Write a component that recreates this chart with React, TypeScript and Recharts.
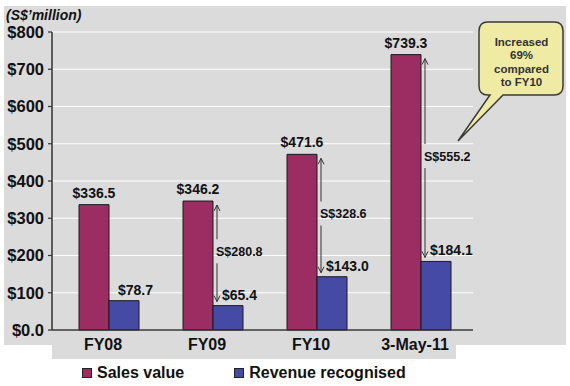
import React from "react";
import { BarChart, Bar, XAxis, YAxis, CartesianGrid, LabelList, Legend } from "recharts";

const categories = ["FY08", "FY09", "FY10", "3-May-11"];
const salesValue = [336.5, 346.2, 471.6, 739.3];
const revenueRecognised = [78.7, 65.4, 143.0, 184.1];
const showGap = [false, true, true, true];
const yTicks = [0, 100, 200, 300, 400, 500, 600, 700, 800];
const seriesNames = ["Sales value", "Revenue recognised"];
const yUnitLabel = "(S$\u2019million)";
const calloutLines = ["Increased", "69%", "compared", "to FY10"];

const data = categories.map((c, i) => ({
  category: c,
  sales: salesValue[i],
  revenue: revenueRecognised[i],
}));

const FONT = "'Liberation Sans', Arial, sans-serif";
const SALES_COLOR = "#9b2d63";
const REV_COLOR = "#454aa5";
const BG = "#dcdbdc";
const INK = "#111111";

const money = (v: number) => `$${v.toFixed(1)}`;

const RevenueLabel = (props: any) => {
  const vb = props.viewBox && props.viewBox.height != null ? props.viewBox : props;
  const x = Number(vb.x);
  const y = Number(vb.y);
  const height = Number(vb.height);
  const i = props.index as number;
  const rev = revenueRecognised[i];
  const s = salesValue[i];
  const base = y + height;
  const pxPer = height / rev;
  const salesTop = base - s * pxPer;
  const revTop = y;
  const labelEl = (
    <text x={x + 9} y={revTop - 6} fontSize={14} fontWeight="bold" fill={INK} fontFamily={FONT} textAnchor="start">
      {money(rev)}
    </text>
  );
  if (!showGap[i]) return <g>{labelEl}</g>;
  const ax = x + 4;
  const top = salesTop + 4;
  const bot = revTop - 4;
  const mid = (top + bot) / 2 - 2;
  const st = { stroke: "#333", strokeWidth: 1, fill: "none" };
  return (
    <g>
      <line x1={ax} y1={top} x2={ax} y2={mid - 12} {...st} />
      <line x1={ax} y1={mid + 12} x2={ax} y2={bot} {...st} />
      <polyline points={`${ax - 3},${top + 6} ${ax},${top} ${ax + 3},${top + 6}`} {...st} />
      <polyline points={`${ax - 3},${bot - 6} ${ax},${bot} ${ax + 3},${bot - 6}`} {...st} />
      <text x={ax - 1} y={mid + 4.5} fontSize={12.5} fontWeight="bold" fill={INK} fontFamily={FONT} textAnchor="start">
        {`S$${(s - rev).toFixed(1)}`}
      </text>
      {labelEl}
    </g>
  );
};

const XTick = (props: any) => {
  const { x, y, payload } = props;
  return (
    <text x={x - 6} y={y + 11.4} textAnchor="middle" fontSize={16} fontWeight="bold" fill={INK} fontFamily={FONT}>
      {payload.value}
    </text>
  );
};

const renderLegend = (props: any) => {
  const payload = [...(props.payload || [])].sort(
    (a: any, b: any) => seriesNames.indexOf(a.value) - seriesNames.indexOf(b.value)
  );
  return (
    <div
      style={{
        display: "flex",
        alignItems: "center",
        height: 20,
        paddingLeft: 82,
        fontFamily: FONT,
        fontWeight: "bold",
        fontSize: 16,
        color: INK,
      }}
    >
      {payload.map((p: any, i: number) => (
        <div key={i} style={{ display: "flex", alignItems: "center", marginRight: 50 }}>
          <span
            style={{
              display: "inline-block",
              width: 8,
              height: 8,
              background: p.color,
              border: "1px solid #222",
              marginRight: 5,
            }}
          />
          <span>{p.value}</span>
        </div>
      ))}
    </div>
  );
};

export default function App() {
  return (
    <div style={{ position: "absolute", left: 0, top: 0, width: 570, height: 386, background: "#ffffff", overflow: "hidden" }}>
      <div style={{ position: "absolute", left: 4, top: 6, width: 562, height: 339, background: BG }} />
      <div style={{ position: "absolute", left: 52, top: 345, width: 404, height: 14, background: BG }} />
      <div style={{ position: "absolute", left: 0, top: 0 }}>
        <BarChart
          width={570}
          height={386}
          data={data}
          margin={{ top: 32, right: 97, left: 0, bottom: 0 }}
          barGap={0}
          barSize={30}
        >
          <CartesianGrid vertical={false} stroke="#ffffff" strokeWidth={1} />
          <XAxis
            dataKey="category"
            padding={{ left: 5, right: 0 }}
            tickLine={false}
            tickSize={0}
            tickMargin={9}
            height={36}
            interval={0}
            axisLine={{ stroke: "#333", strokeWidth: 1.5 }}
            tick={<XTick />}
          />
          <YAxis
            domain={[0, 800]}
            ticks={yTicks}
            width={52}
            tickSize={4}
            tickMargin={4}
            axisLine={{ stroke: "#333", strokeWidth: 1.5 }}
            tickLine={{ stroke: "#333", strokeWidth: 1.2 }}
            tickFormatter={(v: number) => (v === 0 ? "$0.0" : `$${v}`)}
            tick={{ fontSize: 16.5, fontWeight: "bold", fill: INK, fontFamily: FONT }}
            interval={0}
          />
          <Legend
            verticalAlign="bottom"
            content={renderLegend}
            wrapperStyle={{ left: 0, top: 363, width: 570, bottom: undefined }}
          />
          <Bar dataKey="sales" name={seriesNames[0]} fill={SALES_COLOR} stroke="#1a1a1a" strokeWidth={1} isAnimationActive={false}>
            <LabelList
              dataKey="sales"
              position="top"
              offset={7}
              formatter={(v: any) => money(Number(v))}
              style={{ fontSize: 14, fontWeight: "bold", fill: INK, fontFamily: FONT }}
            />
          </Bar>
          <Bar dataKey="revenue" name={seriesNames[1]} fill={REV_COLOR} stroke="#1a1a1a" strokeWidth={1} isAnimationActive={false}>
            <LabelList dataKey="revenue" content={RevenueLabel} />
          </Bar>
        </BarChart>
      </div>
      <svg width={570} height={386} style={{ position: "absolute", left: 0, top: 0, pointerEvents: "none" }}>
        <text x={6} y={20} fontSize={14} fontWeight="bold" fontStyle="italic" fill={INK} fontFamily={FONT}>
          {yUnitLabel}
        </text>
        <path
          d="M 488,22 H 554 Q 563,22 563,31 V 86 Q 563,95 554,95 H 503 L 458,141 L 490,95 H 488 Q 479,95 479,86 V 31 Q 479,22 488,22 Z"
          fill="#efeba4"
          stroke="#3a3a3a"
          strokeWidth={1.5}
        />
        {calloutLines.map((t, i) => (
          <text
            key={i}
            x={521.5}
            y={45.5 + i * 13.5}
            textAnchor="middle"
            fontSize={11.5}
            fontWeight="bold"
            fill="#333"
            fontFamily={FONT}
          >
            {t}
          </text>
        ))}
      </svg>
    </div>
  );
}
